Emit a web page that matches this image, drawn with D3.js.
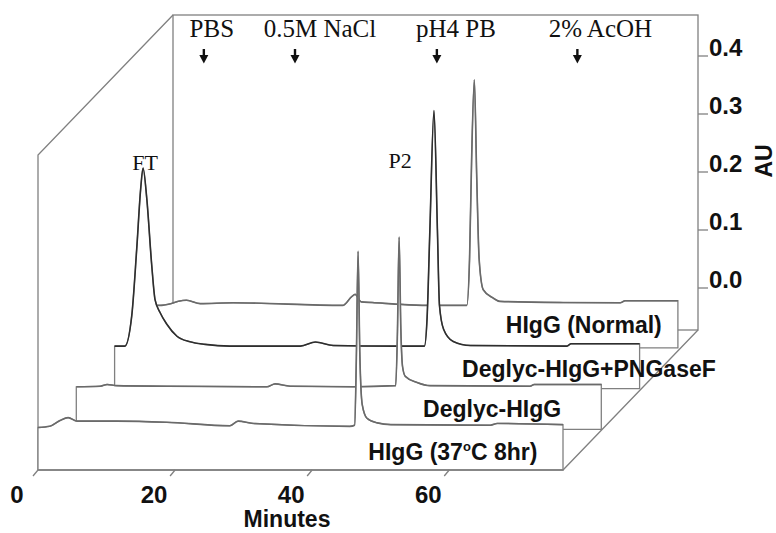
<!DOCTYPE html>
<html>
<head>
<meta charset="utf-8">
<script src="https://cdn.jsdelivr.net/npm/d3@7"></script>
<style>
  body { margin: 0; background: #fff; }
  .sans { font-family: "Liberation Sans", Arial, sans-serif; font-weight: bold; fill: #111; }
  .serif { font-family: "Liberation Serif", "Times New Roman", serif; fill: #111; }
</style>
</head>
<body>
<div id="chart"></div>
<script>
// Chromatogram traces (minutes, AU above each trace's own baseline), front to back
const t37 = [0, 1.7, 3.2, 4.4, 5.7, 11.5, 18.8, 28.0, 29.2, 31.4, 45.5, 46.2, 46.45, 46.7, 46.95, 47.3, 48.0, 49.5, 51.5, 66.0, 67.0, 76.6];
const v37 = [0, 0.002, 0.012, 0.017, 0.011, 0.011, 0.009, 0.003, 0.011, 0.007, 0.002, 0.004, 0.12, 0.304, 0.13, 0.04, 0.016, 0.008, 0.005, 0.004, 0.007, 0.005];

const tDeglyc = [0, 3.5, 4.5, 5.9, 13.2, 27.8, 29.0, 31.2, 40.4, 46.6, 46.85, 47.1, 47.35, 47.6, 48.0, 49.7, 51.6, 66.2, 66.8, 76.6];
const vDeglyc = [0, 0.001, 0.004, 0.002, 0.001, 0, 0.005, 0.001, 0, 0.002, 0.09, 0.258, 0.1, 0.035, 0.018, 0.0075, 0.002, 0.001, 0.004, 0.004];

const tPNGase = [0, 1.5, 2.5, 3.23, 3.81, 4.15, 4.69, 5.42, 5.9, 6.63, 7.6, 9.1, 11.0, 13.2, 16.8, 27.1, 29.3, 31.9, 40.6, 45.2, 45.6, 46.0, 46.6, 47.1, 47.4, 48.0, 49.4, 51.9, 66.0, 66.6, 76.6];
const vPNGase = [0, 0, 0.052, 0.168, 0.272, 0.307, 0.255, 0.139, 0.08, 0.058, 0.038, 0.017, 0.0075, 0.003, 0, 0, 0.007, 0.001, 0, 0, 0.05, 0.2, 0.406, 0.2, 0.07, 0.029, 0.008, 0.001, 0, 0.004, 0.004];

const tNormal = [0, 1.0, 2.6, 3.7, 4.9, 6.9, 11.7, 27.7, 29.0, 29.5, 30.4, 32.0, 35.7, 40.0, 45.8, 46.2, 46.5, 46.9, 47.25, 47.6, 48.2, 49.6, 50.6, 59.4, 68.2, 68.9, 76.6];
const vNormal = [0, 0, 0.003, 0.007, 0.009, 0.003, 0.0045, 0, 0.015, 0.019, 0.006, 0.005, 0.002, 0, 0, 0.08, 0.25, 0.389, 0.22, 0.08, 0.027, 0.013, 0.007, 0.005, 0.0045, 0.008, 0.008];

const seriesNames = ["HIgG (37", "Deglyc-HIgG", "Deglyc-HIgG+PNGaseF", "HIgG (Normal)"];
const xTicks = [0, 20, 40, 60];
const auTicks = [0, 0.1, 0.2, 0.3, 0.4];
const buffers = ["PBS", "0.5M NaCl", "pH4 PB", "2% AcOH"];
const bufferTimes = [4.5, 17.8, 38.5, 59.0];

const width = 776, height = 533;
const floorY = 470, zeroLift = 42.5;
// depth shift of each trace plane and of the back wall
const planeDx = [0, 38.3, 76.6, 114.9], planeDy = [0, -40.7, -81.4, -122.1];
const wallDx = 135, wallDy = -140, wallTop = 15;

const svg = d3.select("#chart").append("svg")
    .attr("width", width)
    .attr("height", height);

const x = d3.scaleLinear().domain([0, 76.6]).range([38, 563]);
const h = d3.scaleLinear().domain([0, 0.4]).range([0, 232]);

const frame = "#808080";

// back wall
svg.append("rect")
    .attr("x", x(0) + wallDx).attr("y", wallTop)
    .attr("width", x(76.6) - x(0)).attr("height", floorY + wallDy - wallTop)
    .attr("fill", "none").attr("stroke", frame).attr("stroke-width", 1.3);

// left ghost edge
svg.append("path")
    .attr("d", `M${x(0)},${floorY}L${x(0)},${wallTop - wallDy}L${x(0) + wallDx},${wallTop}`)
    .attr("fill", "none").attr("stroke", frame).attr("stroke-width", 1.3);

// AU axis on the right edge of the wall
const yWall = d3.scaleLinear().domain([0, 0.4])
    .range([floorY + wallDy - zeroLift, floorY + wallDy - zeroLift - h(0.4)]);
const auAxis = svg.append("g")
    .attr("transform", `translate(${x(76.6) + wallDx},0)`)
    .call(d3.axisRight(yWall).tickValues(auTicks).tickSize(10).tickFormat(d3.format(".1f")));
auAxis.select(".domain").remove();
auAxis.selectAll("line").attr("stroke", frame).attr("stroke-width", 1.3);
auAxis.selectAll("text")
    .attr("class", "sans")
    .attr("x", 11).attr("dy", 0)
    .style("font-size", "24px");

svg.append("text")
    .attr("class", "sans")
    .attr("transform", "translate(772,161) rotate(-90)")
    .attr("text-anchor", "middle")
    .style("font-size", "23px")
    .text("AU");

// traces, drawn back to front so each white box hides what is behind it
const traces = [
    { t: t37, v: v37, color: "#6a6a6a" },
    { t: tDeglyc, v: vDeglyc, color: "#6a6a6a" },
    { t: tPNGase, v: vPNGase, color: "#2e2e2e" },
    { t: tNormal, v: vNormal, color: "#6a6a6a" }
];

for (let k = traces.length - 1; k >= 0; k--) {
    const tr = traces[k];
    const pts = tr.t.map((t, i) => [t, tr.v[i]]);
    const fl = floorY + planeDy[k];
    const px = d => x(d[0]) + planeDx[k];
    const py = d => fl - zeroLift - h(d[1]);

    const area = d3.area().x(px).y0(fl).y1(py).curve(d3.curveMonotoneX);
    svg.append("path")
        .attr("d", area(pts))
        .attr("fill", "#fff")
        .attr("stroke", frame).attr("stroke-width", 1.3);

    const line = d3.line().x(px).y(py).curve(d3.curveMonotoneX);
    svg.append("path")
        .attr("d", line(pts))
        .attr("fill", "none")
        .attr("stroke", tr.color).attr("stroke-width", 1.6);
}

// floor and right diagonal
svg.append("path")
    .attr("d", `M${x(0)},${floorY}L${x(76.6)},${floorY}L${x(76.6) + wallDx},${floorY + wallDy}`)
    .attr("fill", "none").attr("stroke", frame).attr("stroke-width", 1.3);

// slanted x ticks
svg.selectAll(".xtick")
    .data(xTicks)
    .join("line")
    .attr("x1", d => x(d)).attr("y1", floorY)
    .attr("x2", d => x(d) - 5).attr("y2", floorY + 6)
    .attr("stroke", frame).attr("stroke-width", 1.3);

svg.selectAll(".xlabel")
    .data(xTicks)
    .join("text")
    .attr("class", "sans")
    .attr("x", d => x(d) - 21)
    .attr("y", 503)
    .attr("text-anchor", "middle")
    .style("font-size", "24px")
    .text(d => d);

svg.append("text")
    .attr("class", "sans")
    .attr("x", 287).attr("y", 527)
    .attr("text-anchor", "middle")
    .style("font-size", "23px")
    .text("Minutes");

// series labels inside the boxes
const labelT = [48.2, 50.6, 50.7, 51.5];
const labelLift = [10, 12, 12, 15];
seriesNames.forEach((name, k) => {
    const txt = svg.append("text")
        .attr("class", "sans")
        .attr("x", x(labelT[k]) + planeDx[k])
        .attr("y", floorY + planeDy[k] - labelLift[k])
        .style("font-size", "23px")
        .text(name);
    if (k === 0) {
        txt.append("tspan").attr("dy", -9).style("font-size", "13px").text("o");
        txt.append("tspan").attr("dy", 9).text("C 8hr)");
    }
});

// peak labels
svg.append("text")
    .attr("class", "serif")
    .attr("x", x(4.15) + planeDx[2] + 2)
    .attr("y", 170)
    .attr("text-anchor", "middle")
    .style("font-size", "22px")
    .text("FT");

svg.append("text")
    .attr("class", "serif")
    .attr("x", x(47.1) + planeDx[1] + 1)
    .attr("y", 168)
    .attr("text-anchor", "middle")
    .style("font-size", "22px")
    .text("P2");

// buffer change arrows along the top of the wall
const labelShift = [8, 25, 19, 23];
buffers.forEach((b, i) => {
    const ax = x(bufferTimes[i]) + wallDx;
    svg.append("text")
        .attr("class", "serif")
        .attr("x", ax + labelShift[i])
        .attr("y", 37)
        .attr("text-anchor", "middle")
        .style("font-size", "25px")
        .text(b);
    svg.append("line")
        .attr("x1", ax).attr("y1", 49)
        .attr("x2", ax).attr("y2", 57)
        .attr("stroke", "#111").attr("stroke-width", 2.4);
    svg.append("path")
        .attr("d", `M${ax - 4.5},55L${ax + 4.5},55L${ax},63.5Z`)
        .attr("fill", "#111");
});
</script>
</body>
</html>
